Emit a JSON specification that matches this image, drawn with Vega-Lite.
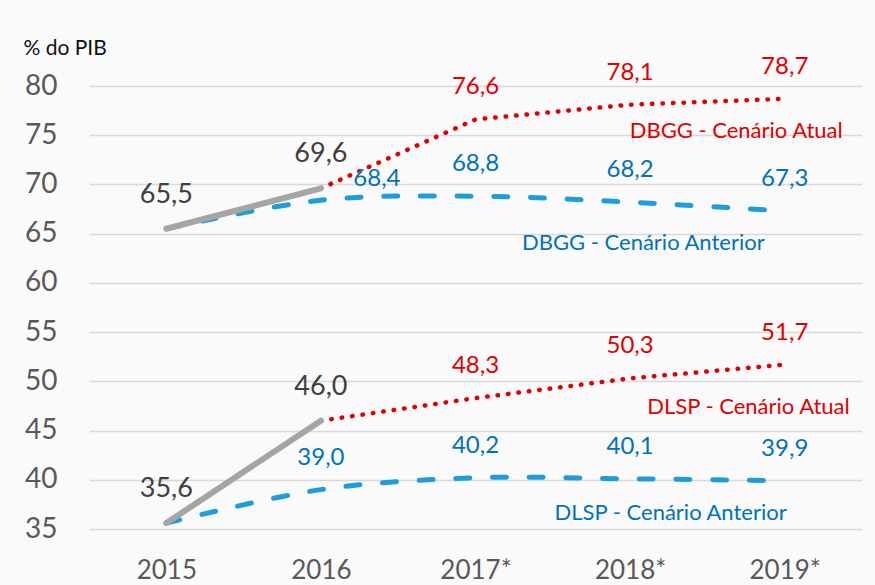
{
  "$schema": "https://vega.github.io/schema/vega-lite/v6.json",
  "width": 773,
  "height": 443,
  "autosize": {"type": "none"},
  "padding": {"left": 89, "top": 86, "right": 13, "bottom": 56},
  "background": "#FAFAFA",
  "config": {
    "view": {"stroke": null},
    "font": "Lato",
    "locale": {"number": {"decimal": ",", "thousands": ".", "grouping": [3], "currency": ["R$", ""]}}
  },
  "data": {
    "values": [
      {"year": "2015", "value": 65.5, "series": "Realizado", "group": "DBGG"},
      {"year": "2016", "value": 69.6, "series": "Realizado", "group": "DBGG"},
      {"year": "2015", "value": 35.6, "series": "Realizado", "group": "DLSP"},
      {"year": "2016", "value": 46.0, "series": "Realizado", "group": "DLSP"},
      {"year": "2016", "value": 69.6, "series": "Atual", "group": "DBGG"},
      {"year": "2017*", "value": 76.6, "series": "Atual", "group": "DBGG"},
      {"year": "2018*", "value": 78.1, "series": "Atual", "group": "DBGG"},
      {"year": "2019*", "value": 78.7, "series": "Atual", "group": "DBGG"},
      {"year": "2016", "value": 46.0, "series": "Atual", "group": "DLSP"},
      {"year": "2017*", "value": 48.3, "series": "Atual", "group": "DLSP"},
      {"year": "2018*", "value": 50.3, "series": "Atual", "group": "DLSP"},
      {"year": "2019*", "value": 51.7, "series": "Atual", "group": "DLSP"},
      {"year": "2015", "value": 65.5, "series": "Anterior", "group": "DBGG"},
      {"year": "2016", "value": 68.4, "series": "Anterior", "group": "DBGG"},
      {"year": "2017*", "value": 68.8, "series": "Anterior", "group": "DBGG"},
      {"year": "2018*", "value": 68.2, "series": "Anterior", "group": "DBGG"},
      {"year": "2019*", "value": 67.3, "series": "Anterior", "group": "DBGG"},
      {"year": "2015", "value": 35.6, "series": "Anterior", "group": "DLSP"},
      {"year": "2016", "value": 39.0, "series": "Anterior", "group": "DLSP"},
      {"year": "2017*", "value": 40.2, "series": "Anterior", "group": "DLSP"},
      {"year": "2018*", "value": 40.1, "series": "Anterior", "group": "DLSP"},
      {"year": "2019*", "value": 39.9, "series": "Anterior", "group": "DLSP"}
    ]
  },
  "encoding": {
    "x": {
      "field": "year", "type": "ordinal",
      "scale": {"type": "point", "padding": 0.5},
      "axis": {"title": null, "domain": false, "ticks": false, "labelAngle": 0, "labelFontSize": 26, "labelColor": "#595959", "labelPadding": 28, "grid": false}
    },
    "y": {
      "field": "value", "type": "quantitative",
      "scale": {"domain": [35, 80], "nice": false, "zero": false},
      "axis": {
        "title": "% do PIB", "titleAngle": 0, "titleAlign": "left", "titleBaseline": "middle",
        "titleX": -66, "titleY": -38, "titleFontSize": 21, "titleFontWeight": "normal", "titleColor": "#111111",
        "values": [35, 40, 45, 50, 55, 60, 65, 70, 75, 80],
        "domain": false, "ticks": false, "labelFontSize": 28, "labelColor": "#595959", "labelPadding": 32,
        "grid": true, "gridColor": "#D9D9D9", "gridWidth": 1.5
      }
    }
  },
  "layer": [
    {
      "transform": [{"filter": "datum.series === 'Anterior'"}],
      "mark": {"type": "line", "interpolate": "catmull-rom", "color": "#1F9DD9", "strokeWidth": 5, "strokeDash": [14, 22.7], "strokeCap": "round"},
      "encoding": {"detail": {"field": "group"}}
    },
    {
      "transform": [{"filter": "datum.series === 'Atual'"}],
      "mark": {"type": "line", "interpolate": "linear", "color": "#E00000", "strokeWidth": 4.5, "strokeDash": [0.5, 10], "strokeCap": "round"},
      "encoding": {"detail": {"field": "group"}}
    },
    {
      "transform": [{"filter": "datum.series === 'Realizado'"}],
      "mark": {"type": "line", "color": "#A5A5A5", "strokeWidth": 6, "strokeCap": "round"},
      "encoding": {"detail": {"field": "group"}}
    },
    {
      "transform": [{"filter": "datum.series === 'Realizado'"}],
      "mark": {"type": "text", "fontSize": 27, "color": "#404040", "dy": -34, "baseline": "middle"},
      "encoding": {"text": {"field": "value", "type": "quantitative", "format": ".1f"}}
    },
    {
      "transform": [{"filter": "datum.series === 'Atual' && datum.year !== '2016'"}],
      "mark": {"type": "text", "fontSize": 24, "color": "#E00000", "dy": -32, "baseline": "middle"},
      "encoding": {"text": {"field": "value", "type": "quantitative", "format": ".1f"}}
    },
    {
      "transform": [{"filter": "datum.series === 'Anterior' && datum.year !== '2015' && !(datum.group === 'DBGG' && datum.year === '2016')"}],
      "mark": {"type": "text", "fontSize": 24, "color": "#0070C0", "dy": -32, "baseline": "middle"},
      "encoding": {"text": {"field": "value", "type": "quantitative", "format": ".1f"}}
    },
    {
      "transform": [{"filter": "datum.series === 'Anterior' && datum.group === 'DBGG' && datum.year === '2016'"}],
      "mark": {"type": "text", "fontSize": 24, "color": "#0070C0", "dx": 56, "dy": -21, "baseline": "middle"},
      "encoding": {"text": {"field": "value", "type": "quantitative", "format": ".1f"}}
    },
    {
      "transform": [{"filter": "datum.series === 'Atual' && datum.group === 'DBGG' && datum.year === '2019*'"}],
      "mark": {"type": "text", "fontSize": 22, "color": "#E00000", "align": "right", "dx": 58, "dy": 32, "baseline": "middle", "text": "DBGG - Cenário Atual"},
      "encoding": {}
    },
    {
      "transform": [{"filter": "datum.series === 'Anterior' && datum.group === 'DBGG' && datum.year === '2019*'"}],
      "mark": {"type": "text", "fontSize": 22, "color": "#0070C0", "align": "right", "dx": -20, "dy": 32, "baseline": "middle", "text": "DBGG - Cenário Anterior"},
      "encoding": {}
    },
    {
      "transform": [{"filter": "datum.series === 'Atual' && datum.group === 'DLSP' && datum.year === '2019*'"}],
      "mark": {"type": "text", "fontSize": 22, "color": "#E00000", "align": "right", "dx": 65, "dy": 42, "baseline": "middle", "text": "DLSP - Cenário Atual"},
      "encoding": {}
    },
    {
      "transform": [{"filter": "datum.series === 'Anterior' && datum.group === 'DLSP' && datum.year === '2019*'"}],
      "mark": {"type": "text", "fontSize": 22, "color": "#0070C0", "align": "right", "dx": 2, "dy": 32, "baseline": "middle", "text": "DLSP - Cenário Anterior"},
      "encoding": {}
    }
  ]
}
